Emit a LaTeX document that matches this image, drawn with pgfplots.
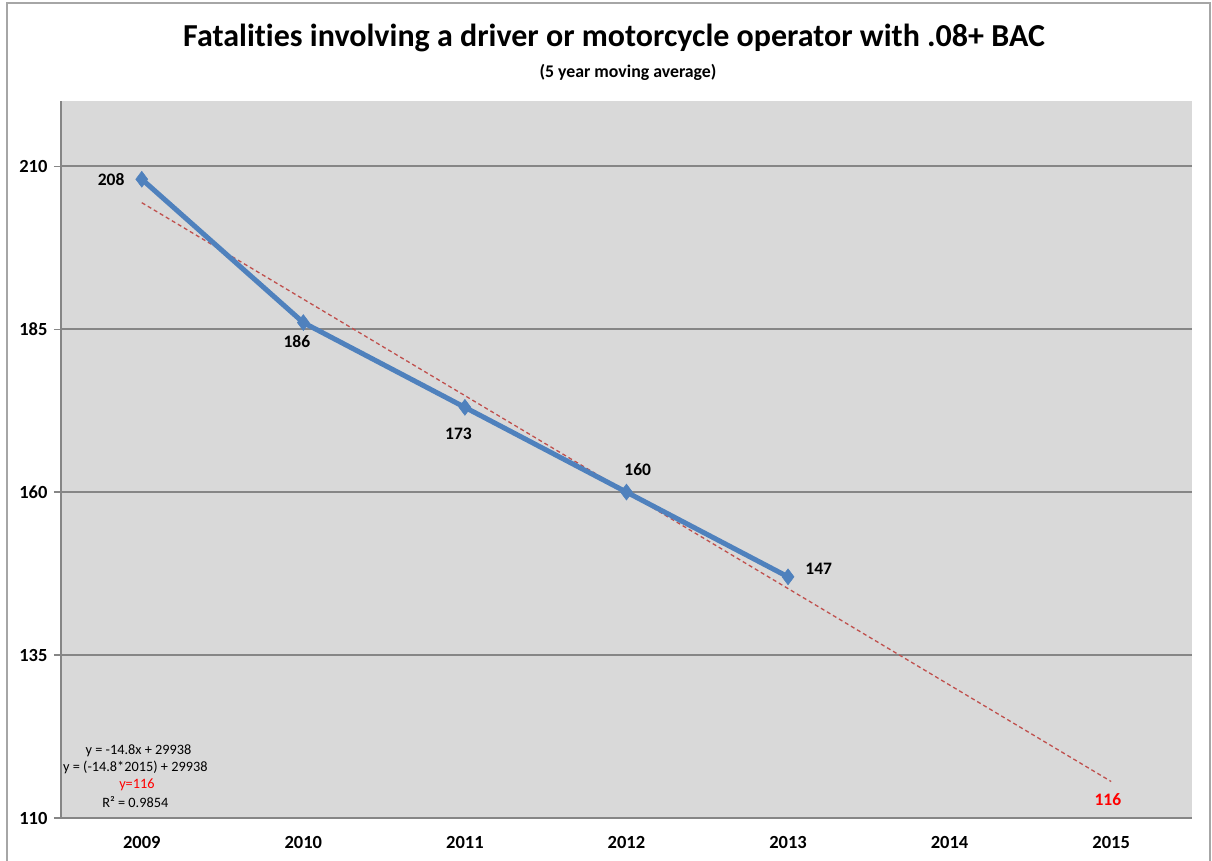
\documentclass[border=0pt]{standalone}
\usepackage{fontspec}
\setmainfont{Carlito}[Ligatures=NoCommon]
\usepackage{pgfplots}
\pgfplotsset{compat=1.18}
\definecolor{plotbg}{HTML}{D9D9D9}
\definecolor{gridc}{HTML}{868686}
\definecolor{serblue}{HTML}{4F81BD}
\definecolor{trendred}{HTML}{C0504D}
\definecolor{framec}{HTML}{A6A6A6}
\begin{document}
\begin{tikzpicture}[x=1pt,y=1pt]
\useasboundingbox (0,0) rectangle (1212,860);
\draw[framec, line width=2pt] (7,-20) -- (7,856.5) -- (1210,856.5) -- (1210,-20);
\node[font=\fontsize{32}{36}\selectfont\bfseries] at (614,822) {Fatalities involving a driver or motorcycle operator with .08+ BAC};
\node[font=\fontsize{17.8}{21}\selectfont\bfseries] at (628,788) {(5 year moving average)};
\begin{axis}[
  at={(61pt,42pt)}, anchor=south west,
  scale only axis, width=1131pt, height=717pt,
  xmin=-0.5, xmax=6.5, ymin=110, ymax=220,
  axis background/.style={fill=plotbg},
  axis x line=bottom, axis y line=left,
  axis line style={-, gridc, line width=1.2pt},
  xtick={0,1,2,3,4,5,6},
  xticklabels={2009,2010,2011,2012,2013,2014,2015},
  xtick style={draw=none},
  extra x ticks={-0.5,0.5,1.5,2.5,3.5,4.5,5.5,6.5},
  extra x tick labels={},
  extra x tick style={tick style={draw=gridc, line width=1.2pt}, major tick length=7pt, tick align=outside, grid=none},
  ytick={110,135,160,185,210},
  ytick style={draw=gridc, line width=1.2pt},
  major tick length=7pt, tick align=outside,
  ymajorgrids, grid style={gridc, line width=1.5pt},
  /pgf/number format/assume math mode=true,
  ticklabel style={font=\fontsize{18.5}{21}\selectfont\bfseries},
  xticklabel style={yshift=-8pt},
  yticklabel style={xshift=-3pt},
  clip=false,
]
\addplot[trendred, line width=1.3pt, dash pattern=on 4pt off 3pt] coordinates {(0,204.4) (6,115.6)};
\addplot[serblue, line width=5pt, mark=diamond*, mark size=8pt, mark options={solid, fill=serblue, draw=serblue, line width=0.5pt}] coordinates {(0,208) (1,186) (2,173) (3,160) (4,147)};
\begin{scope}[font=\fontsize{17.5}{20}\selectfont\bfseries]
\node at (axis cs:-0.19,208) {208};
\node at (axis cs:0.96,183.1) {186};
\node at (axis cs:1.96,169.0) {173};
\node at (axis cs:3.07,163.4) {160};
\node at (axis cs:4.19,148.2) {147};
\node[text=red] at (axis cs:5.98,112.8) {116};
\end{scope}
\begin{scope}[font=\fontsize{14.3}{17}\selectfont]
\node at (axis cs:-0.02,120.3) {y = -14.8x + 29938};
\node at (axis cs:-0.04,117.7) {y = (-14.8*2015) + 29938};
\node[text=red] at (axis cs:-0.03,115.1) {y=116};
\node at (axis cs:-0.04,112.5) {R² = 0.9854};
\end{scope}
\end{axis}
\end{tikzpicture}
\end{document}
